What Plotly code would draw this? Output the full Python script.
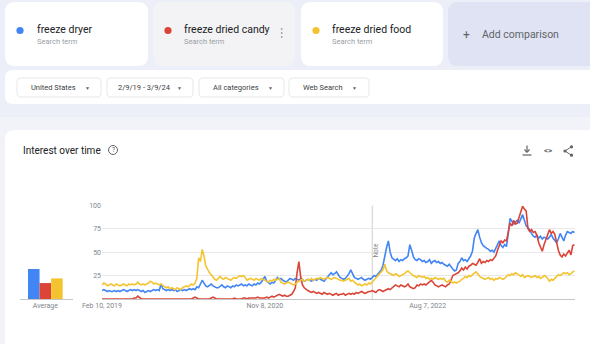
import pandas as pd
import plotly.graph_objects as go

W, H = 590, 344

# ---------------- data ----------------
terms = ["freeze dryer", "freeze dried candy", "freeze dried food"]
start_date = "2019-02-10"
n_weeks = 265

freeze_dryer = [
    9, 10, 9, 8, 9, 8, 8, 9, 8, 9,
    8, 9, 10, 9, 8, 9, 10, 9, 10, 9,
    10, 9, 8, 9, 7, 8, 9, 8, 9, 10,
    9, 10, 9, 16, 11, 10, 9, 10, 9, 10,
    9, 10, 8, 9, 10, 9, 10, 9, 10, 11,
    10, 11, 10, 13, 12, 16, 20, 17, 14, 13,
    15, 16, 14, 13, 12, 12, 14, 15, 13, 12,
    14, 13, 12, 14, 13, 15, 14, 15, 16, 14,
    15, 14, 16, 15, 14, 16, 15, 17, 16, 18,
    21, 24, 19, 17, 16, 18, 17, 20, 23, 21,
    22, 20, 19, 18, 20, 22, 21, 20, 22, 21,
    20, 22, 21, 19, 20, 21, 20, 19, 20, 21,
    20, 22, 21, 20, 19, 21, 23, 25, 28, 26,
    27, 29, 26, 23, 22, 21, 22, 24, 27, 31,
    26, 23, 22, 21, 22, 23, 21, 20, 21, 22,
    21, 23, 25, 24, 26, 28, 31, 36, 47, 55,
    62, 50, 44, 42, 41, 43, 40, 42, 41, 43,
    44, 46, 58, 52, 45, 42, 41, 43, 42, 40,
    41, 39, 40, 42, 38, 40, 41, 39, 40, 38,
    39, 37, 36, 35, 37, 34, 32, 30, 31, 38,
    40, 44, 41, 42, 40, 43, 46, 51, 65, 70,
    74, 66, 60, 57, 55, 54, 53, 51, 52, 50,
    54, 58, 62, 57, 55, 58, 56, 70, 86, 83,
    80, 82, 84, 81, 85, 90, 84, 78, 76, 74,
    70, 67, 66, 68, 65, 67, 64, 66, 65, 64,
    66, 69, 65, 63, 60, 64, 70, 66, 62, 68,
    72, 71, 70, 72, 71,
]

freeze_dried_candy = [
    0, 0, 0, 0, 0, 0, 0, 0, 0, 0,
    0, 0, 0, 0, 0, 0, 0, 0, 1, 1,
    3, 1, 0, 0, 0, 0, 0, 0, 0, 0,
    0, 0, 0, 0, 0, 0, 0, 0, 0, 0,
    0, 0, 0, 0, 0, 0, 0, 0, 0, 0,
    0, 1, 2, 1, 0, 0, 0, 0, 0, 0,
    0, 1, 2, 1, 0, 0, 0, 0, 0, 0,
    0, 0, 0, 0, 1, 0, 0, 0, 0, 1,
    1, 0, 1, 1, 1, 1, 1, 2, 1, 1,
    1, 1, 2, 1, 2, 3, 2, 3, 4, 5,
    4, 3, 4, 3, 3, 4, 5, 8, 12, 28,
    40, 24, 15, 12, 10, 9, 8, 7, 8, 7,
    6, 7, 6, 5, 7, 6, 5, 6, 5, 4,
    5, 6, 4, 5, 5, 6, 4, 5, 6, 5,
    6, 5, 7, 6, 7, 8, 7, 6, 7, 8,
    8, 9, 8, 7, 9, 10, 9, 8, 9, 10,
    11, 10, 12, 13, 15, 14, 13, 15, 14, 13,
    14, 16, 13, 12, 11, 12, 15, 14, 16, 15,
    16, 15, 17, 19, 20, 18, 15, 14, 13, 14,
    15, 14, 13, 15, 16, 20, 25, 26, 27, 28,
    30, 33, 31, 34, 32, 35, 36, 38, 37, 36,
    39, 43, 38, 40, 39, 41, 40, 42, 41, 44,
    46, 52, 58, 62, 60, 63, 62, 72, 81, 78,
    84, 80, 81, 87, 92, 99, 96, 94, 75, 72,
    74, 71, 72, 68, 60, 55, 51, 58, 64, 70,
    74, 70, 72, 69, 59, 52, 47, 45, 48, 46,
    49, 52, 47, 57, 58,
]

freeze_dried_food = [
    15, 17, 16, 14, 15, 16, 15, 14, 16, 15,
    14, 15, 16, 15, 14, 16, 15, 16, 15, 16,
    18, 16, 15, 16, 15, 16, 17, 19, 18, 16,
    17, 16, 15, 16, 14, 13, 12, 13, 11, 12,
    11, 10, 12, 11, 10, 12, 13, 14, 13, 15,
    16, 15, 17, 22, 44, 40, 53, 46, 35, 32,
    28, 26, 23, 21, 20, 22, 24, 22, 21, 23,
    22, 21, 20, 22, 23, 22, 24, 25, 24, 25,
    23, 20, 21, 22, 21, 20, 22, 21, 20, 22,
    21, 20, 19, 18, 20, 19, 21, 20, 21, 22,
    18, 17, 16, 17, 18, 17, 16, 15, 16, 18,
    19, 20, 21, 19, 20, 21, 20, 22, 20, 21,
    22, 21, 23, 22, 21, 22, 23, 22, 21, 22,
    23, 22, 21, 20, 20, 19, 20, 21, 22, 19,
    20, 18, 16, 15, 16, 14, 15, 16, 15, 17,
    16, 18, 20, 22, 24, 26, 28, 31, 37, 30,
    28, 27, 26, 25, 27, 26, 24, 25, 26, 27,
    29, 30, 28, 26, 25, 24, 23, 25, 24, 23,
    24, 22, 23, 21, 22, 21, 23, 22, 21, 22,
    21, 22, 19, 18, 20, 19, 17, 18, 17, 18,
    19, 21, 22, 24, 23, 25, 24, 26, 28, 29,
    27, 24, 23, 22, 21, 22, 23, 21, 22, 20,
    22, 21, 23, 22, 21, 22, 24, 26, 25, 27,
    26, 28, 27, 25, 24, 26, 23, 24, 25, 24,
    23, 24, 25, 23, 24, 22, 23, 25, 24, 22,
    19, 21, 20, 22, 24, 26, 25, 27, 28, 27,
    28, 26, 27, 29, 30,
]

averages = [32, 17, 22]
avg_label = "Average"

tick_dates = ["2019-02-10", "2020-11-08", "2022-08-07"]
tick_texts = ["Feb 10, 2019", "Nov 8, 2020", "Aug 7, 2022"]
y_ticks = [25, 50, 75, 100]
note_date = "2022-01-02"

filters = ["United States", "2/9/19 - 3/9/24", "All categories", "Web Search"]

dates = pd.date_range(start_date, periods=n_weeks, freq="7D")

# ---------------- styling ----------------
BLUE = "#4285F4"
RED = "#DB4437"
YELLOW = "#F4C430"
FONT = "Roboto, 'Open Sans', sans-serif"
DARK = "#202124"
GRAY = "#80868b"


def px(x):
    return x / W


def py(y):
    return 1 - y / H


def rrect(x0, y0, x1, y1, r):
    pts = [
        ("M", [(x0 + r, y0)]), ("L", [(x1 - r, y0)]), ("Q", [(x1, y0), (x1, y0 + r)]),
        ("L", [(x1, y1 - r)]), ("Q", [(x1, y1), (x1 - r, y1)]),
        ("L", [(x0 + r, y1)]), ("Q", [(x0, y1), (x0, y1 - r)]),
        ("L", [(x0, y0 + r)]), ("Q", [(x0, y0), (x0 + r, y0)]),
    ]
    s = ""
    for cmd, ps in pts:
        s += cmd + " " + " ".join(f"{px(a):.5f},{py(b):.5f}" for a, b in ps) + " "
    return s + "Z"


shapes = []
annotations = []


def box(x0, y0, x1, y1, r, fill, line=None):
    shapes.append(dict(type="path", xref="paper", yref="paper", path=rrect(x0, y0, x1, y1, r),
                       fillcolor=fill, line=dict(color=line or fill, width=1 if line else 0),
                       layer="below"))


def text(x, y, s, size, color=DARK, anchor="left", **kw):
    annotations.append(dict(x=px(x), y=py(y), xref="paper", yref="paper", text=s, showarrow=False,
                            xanchor=anchor, yanchor="middle",
                            font=dict(size=size, color=color, family=FONT), **kw))


def dot(x, y, r, color):
    shapes.append(dict(type="circle", xref="paper", yref="paper", x0=px(x - r), x1=px(x + r),
                       y0=py(y + r), y1=py(y - r), fillcolor=color, line=dict(width=0), layer="above"))


def seg(x0, y0, x1, y1, color, w=1.2):
    shapes.append(dict(type="line", xref="paper", yref="paper", x0=px(x0), y0=py(y0), x1=px(x1), y1=py(y1),
                       line=dict(color=color, width=w), layer="above"))


# background bands
shapes.append(dict(type="rect", xref="paper", yref="paper", x0=0, x1=1, y0=0, y1=py(117),
                   fillcolor="#f2f3f8", line=dict(width=0), layer="below"))

# term cards
box(5, 2, 148, 66, 10, "#ffffff")
box(153, 2, 295, 66, 10, "#f3f3f5")
box(301, 2, 443, 66, 10, "#ffffff")
box(448, 2, 600, 66, 10, "#dfe3f3")

card_specs = [(20, 35, BLUE), (168, 182, RED), (316, 330, YELLOW)]
for (dx, tx, col), term in zip(card_specs, terms):
    dot(dx, 30.5, 3.6, col)
    text(tx, 29.5, term, 10.5, DARK)
    text(tx, 41.5, "Search term", 7.5, "#9aa0a6")
for yy in (29, 33, 37):
    dot(281.7, yy, 0.9, "#9aa0a6")
text(461, 35, "+", 12, "#5f6368")
text(480, 35, "Add comparison", 10.5, "#5f6368")

# filter panel
box(5, 70, 600, 104, 8, "#ffffff")
btns = [(17, 101), (107, 193), (199, 284), (289, 369)]
for (bx0, bx1), lab in zip(btns, filters):
    box(bx0, 78, bx1, 97, 4, "#ffffff", "#e6e7ea")
    text((bx0 + bx1) / 2 - 6, 87.5, lab, 7.5, "#3c4043", anchor="center")
    text(bx1 - 14, 87.5, "▼", 5, "#5f6368", anchor="center")

# main card
box(5, 130, 620, 380, 10, "#ffffff")
text(21, 150, "Interest over time", 10, DARK)
shapes.append(dict(type="circle", xref="paper", yref="paper", x0=px(108.5), x1=px(117.5),
                   y0=py(154.5), y1=py(145.5), line=dict(color="#5f6368", width=1), layer="above"))
text(113, 150.3, "?", 6.5, "#5f6368", anchor="center")

# download icon
seg(527, 145.5, 527, 152, "#5f6368")
seg(524.5, 149.5, 527, 152.3, "#5f6368")
seg(529.5, 149.5, 527, 152.3, "#5f6368")
seg(522.5, 155, 531.5, 155, "#5f6368")
# embed icon
text(548, 150.5, "<b>&lt;&gt;</b>", 8, "#5f6368", anchor="center")
# share icon
seg(565, 151, 571, 147, "#5f6368", 1)
seg(565, 151, 571, 155, "#5f6368", 1)
dot(565, 151, 1.6, "#5f6368")
dot(571.5, 146.8, 1.6, "#5f6368")
dot(571.5, 155.2, 1.6, "#5f6368")

# note line
shapes.append(dict(type="line", xref="x", yref="y", x0=note_date, x1=note_date, y0=0, y1=100,
                   line=dict(color="#cfcfcf", width=1), layer="below"))
annotations.append(dict(x=note_date, y=52, xref="x", yref="y", text="Note", textangle=-90,
                        showarrow=False, xshift=4, font=dict(size=6.5, color=GRAY, family=FONT)))

# ---------------- traces ----------------
fig = go.Figure()
for name, vals, col in zip(terms, [freeze_dryer, freeze_dried_candy, freeze_dried_food], [BLUE, RED, YELLOW]):
    fig.add_trace(go.Scatter(x=dates, y=vals, mode="lines", name=name,
                             line=dict(color=col, width=1.6), xaxis="x", yaxis="y"))

fig.add_trace(go.Bar(x=[0, 1, 2], y=averages, width=1, marker=dict(color=[BLUE, RED, YELLOW], line=dict(width=0)),
                     xaxis="x2", yaxis="y2", showlegend=False))

ydom = [py(299), py(205.3)]
fig.update_layout(
    template="none",
    width=W, height=H, margin=dict(l=0, r=0, t=0, b=0, pad=0, autoexpand=False),
    paper_bgcolor="#eceff8", plot_bgcolor="rgba(0,0,0,0)",
    showlegend=False, hovermode=False,
    font=dict(family=FONT),
    shapes=shapes, annotations=annotations,
    xaxis=dict(domain=[px(102), px(575)], type="date", range=["2019-02-10", "2024-03-05"],
               tickvals=tick_dates, ticktext=tick_texts, showgrid=False, zeroline=False,
               showline=True, linecolor="#c6c6c6", linewidth=1, ticks="", automargin=False,
               tickfont=dict(size=7, color=GRAY), anchor="y"),
    yaxis=dict(domain=ydom, range=[0, 100], tickvals=y_ticks, showgrid=True, gridcolor="#e8e8e8",
               gridwidth=1, zeroline=False, showline=False, ticks="", automargin=False,
               tickfont=dict(size=7, color=GRAY), anchor="x"),
    xaxis2=dict(domain=[px(20), px(73)], range=[-1.19, 3.39], tickvals=[1], ticktext=[avg_label],
                showgrid=False, zeroline=False, showline=True, linecolor="#c6c6c6", ticks="",
                automargin=False, tickfont=dict(size=7, color=GRAY), anchor="y2"),
    yaxis2=dict(domain=ydom, range=[0, 100], visible=False, anchor="x2", automargin=False),
)

fig.write_html("out.html", config={"displayModeBar": False, "staticPlot": True})
